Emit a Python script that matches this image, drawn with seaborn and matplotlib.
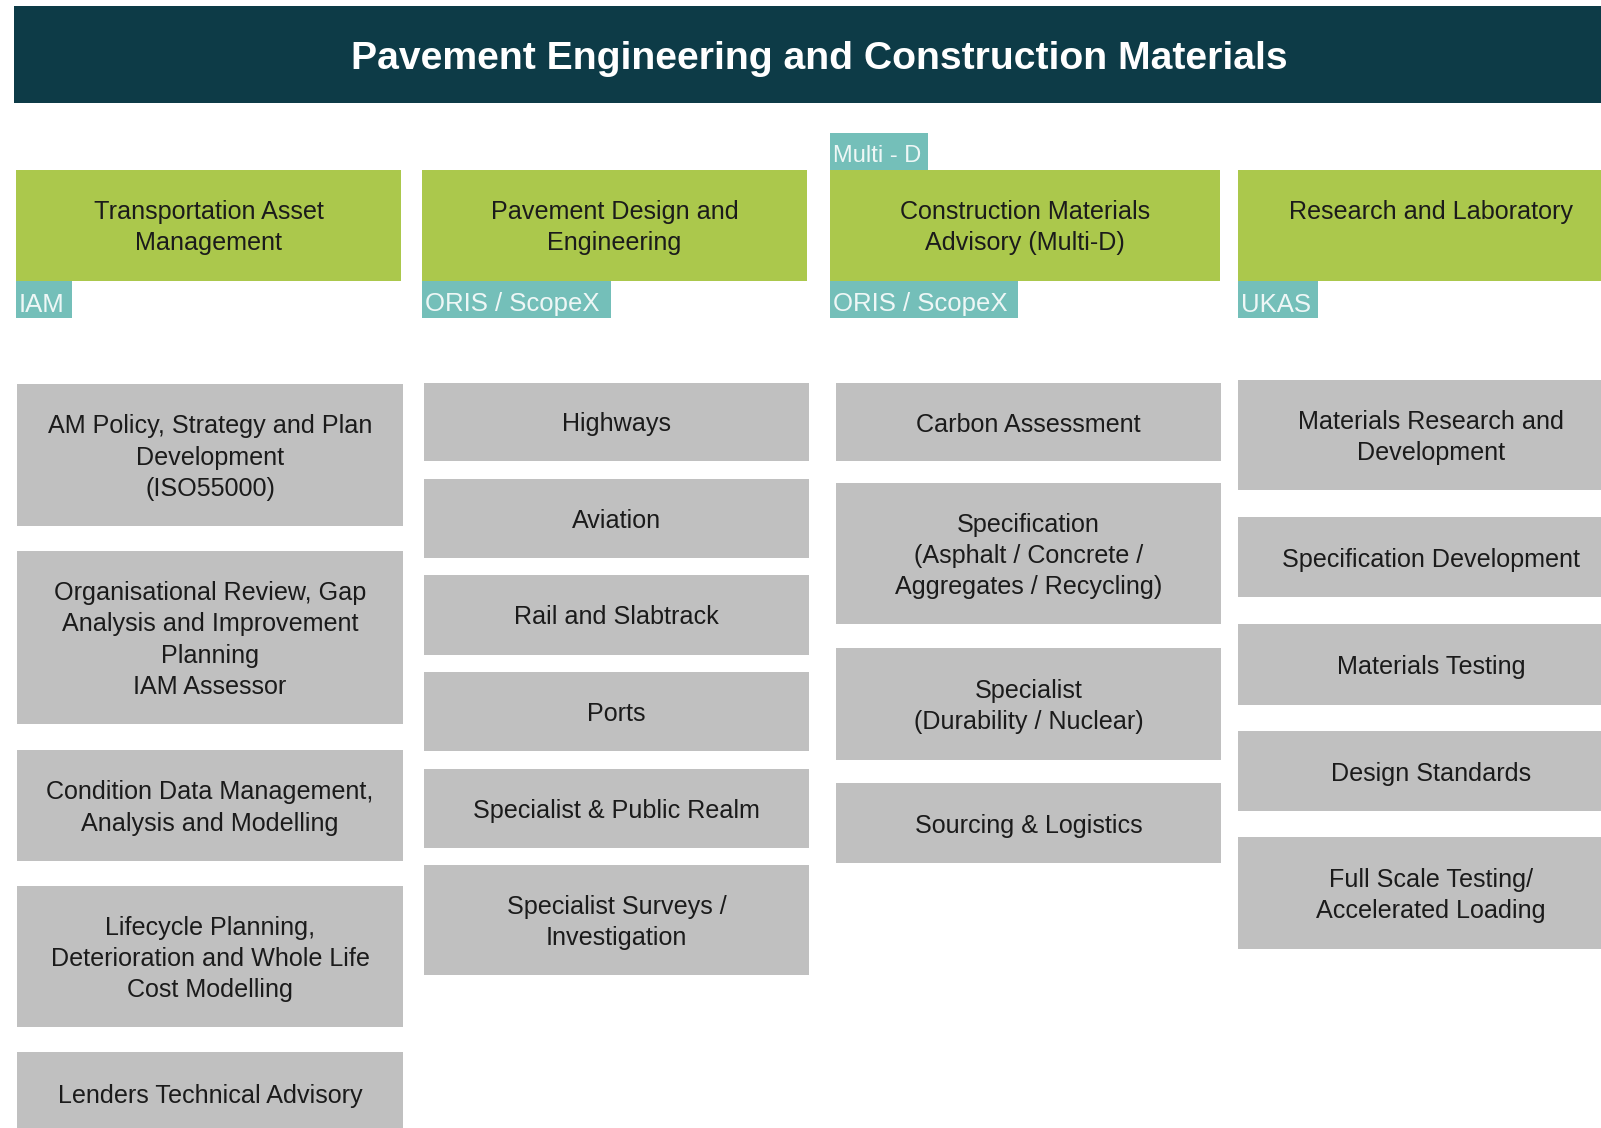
import matplotlib
matplotlib.use("Agg")
import matplotlib.pyplot as plt
from matplotlib.patches import Rectangle
import seaborn as sns

# ---------------- data ----------------
title = "Pavement Engineering and Construction Materials"

headers = [
    "Transportation Asset\nManagement",
    "Pavement Design and\nEngineering",
    "Construction Materials\nAdvisory (Multi-D)",
    "Research and Laboratory\n ",
]
bottom_tags = ["IAM", "ORIS / ScopeX", "ORIS / ScopeX", "UKAS"]
top_tags = [None, None, "Multi - D", None]

col1_items = [
    "AM Policy, Strategy and Plan\nDevelopment\n(ISO55000)",
    "Organisational Review, Gap\nAnalysis and Improvement\nPlanning\nIAM Assessor",
    "Condition Data Management,\nAnalysis and Modelling",
    "Lifecycle Planning,\nDeterioration and Whole Life\nCost Modelling",
    "Lenders Technical Advisory",
]
col2_items = [
    "Highways",
    "Aviation",
    "Rail and Slabtrack",
    "Ports",
    "Specialist & Public Realm",
    "Specialist Surveys /\nInvestigation",
]
col3_items = [
    "Carbon Assessment",
    "Specification\n(Asphalt / Concrete /\nAggregates / Recycling)",
    "Specialist\n(Durability / Nuclear)",
    "Sourcing & Logistics",
]
col4_items = [
    "Materials Research and\nDevelopment",
    "Specification Development",
    "Materials Testing",
    "Design Standards",
    "Full Scale Testing/\nAccelerated Loading",
]
items = [col1_items, col2_items, col3_items, col4_items]

# ---------------- layout (pixel coordinates) ----------------
W, H = 1601, 1128
col_x = [(16, 401), (422, 807), (830, 1220), (1238, 1624)]
item_x = [(17, 403), (424, 809), (836, 1221), (1238, 1624)]
header_y = (170, 281)
tag_h = 37
bottom_tag_w = [56, 189, 188, 80]
top_tag_w = [0, 0, 98, 0]
item_y = [
    [(384, 526), (551, 724), (750, 861), (886, 1027), (1052, 1140)],
    [(383, 461), (479, 558), (575, 655), (672, 751), (769, 848), (865, 975)],
    [(383, 461), (483, 624), (648, 760), (783, 863)],
    [(380, 490), (517, 597), (624, 705), (731, 811), (837, 949)],
]

C_TITLE = "#0d3b47"
C_GREEN = "#abc84c"
C_TAG = "#74bfb9"
C_GRAY = "#c0c0c0"
C_TEXT = "#1b1b1b"
C_TAGTEXT = "#eef7f6"

FS = 18.1
LS = 1.37

sns.set_theme(style="white")
plt.rcParams["font.family"] = ["Liberation Sans", "DejaVu Sans"]

fig = plt.figure(figsize=(W / 100, H / 100), dpi=100)
ax = fig.add_axes([0, 0, 1, 1])
ax.set_xlim(0, W)
ax.set_ylim(H, 0)
ax.axis("off")


def box(x0, x1, y0, y1, color):
    ax.add_patch(Rectangle((x0, y0), x1 - x0, y1 - y0, facecolor=color,
                           edgecolor="none", zorder=2))


# title bar
box(14, W + 10, 6, 103, C_TITLE)
ax.text(819, 59, title, ha="center", va="center", color="white",
        fontsize=28.2, fontweight="bold", zorder=3)

for i, hdr in enumerate(headers):
    x0, x1 = col_x[i]
    box(x0, x1, header_y[0], header_y[1], C_GREEN)
    ax.text((x0 + x1) / 2, (header_y[0] + header_y[1]) / 2 + 2, hdr,
            ha="center", va="center", color=C_TEXT, fontsize=FS,
            linespacing=LS, zorder=3)
    # bottom tag
    box(x0, x0 + bottom_tag_w[i], header_y[1], header_y[1] + tag_h, C_TAG)
    ax.text(x0 + 3, header_y[1] + tag_h / 2 + 5, bottom_tags[i], ha="left",
            va="center", color=C_TAGTEXT, fontsize=18.5, zorder=3)
    if top_tags[i]:
        box(x0, x0 + top_tag_w[i], header_y[0] - tag_h, header_y[0], C_TAG)
        ax.text(x0 + 3, header_y[0] - tag_h / 2 + 4, top_tags[i], ha="left",
                va="center", color=C_TAGTEXT, fontsize=17, zorder=3)

    ix0, ix1 = item_x[i]
    for label, (y0, y1) in zip(items[i], item_y[i]):
        box(ix0, ix1, y0, y1, C_GRAY)
        yc = (y0 + y1) / 2
        if y1 > H:
            yc = 1094
        ax.text((ix0 + ix1) / 2, yc + 2.5, label, ha="center", va="center",
                color=C_TEXT, fontsize=FS, linespacing=LS, zorder=3)

fig.savefig("out.png", dpi=100)
